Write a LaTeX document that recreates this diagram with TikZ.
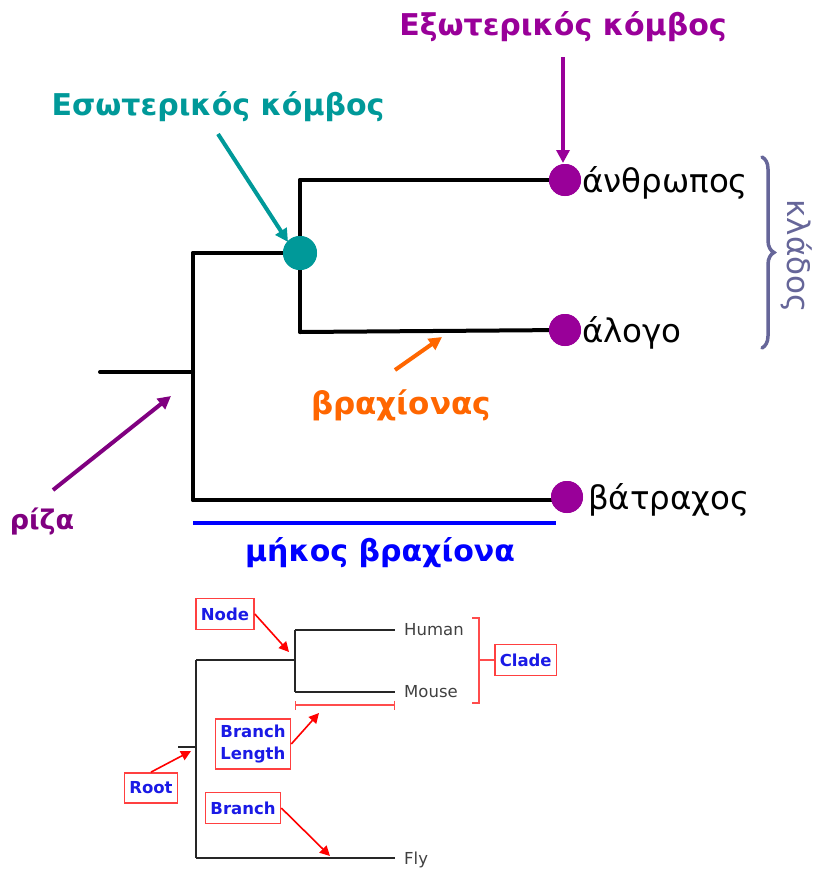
\documentclass[tikz,border=0pt]{standalone}
\usepackage{fontspec}
\setmainfont{DejaVu Sans}
\usetikzlibrary{arrows.meta,decorations.pathreplacing}
\definecolor{extpurple}{HTML}{990099}
\definecolor{rootpurple}{HTML}{800080}
\definecolor{intteal}{HTML}{009999}
\definecolor{armorange}{HTML}{FF6600}
\definecolor{cladegray}{HTML}{666699}
\definecolor{labelblue}{HTML}{1A1AE6}
\tikzset{
  x=1pt, y=-1pt,
  treeline/.style={line width=4pt, line cap=round, line join=round},
  smalltree/.style={line width=2.4pt, black!85},
  callout/.style={line width=4pt, -{Triangle[length=13pt,width=13pt]}},
  redcallout/.style={line width=1.6pt, red, -{Triangle[length=10pt,width=10pt]}},
  leafdot/.style={circle, fill=extpurple, inner sep=0pt, minimum size=32pt},
  innerdot/.style={circle, fill=intteal, inner sep=0pt, minimum size=34pt},
  bigtitle/.style={font=\fontsize{30}{34}\selectfont\bfseries},
  species/.style={font=\fontsize{32.5}{36}\selectfont, anchor=west, inner sep=0pt},
  tag/.style={draw=red!75, line width=1.5pt, fill=white, text=labelblue,
    font=\fontsize{16.5}{22}\selectfont\bfseries, inner xsep=5pt, inner ysep=9pt, align=left},
  smalllabel/.style={font=\fontsize{16.5}{20}\selectfont, text=black!75, anchor=west, inner sep=0pt}
}
\begin{document}
\begin{tikzpicture}
\clip (0,0) rectangle (813,870);
\useasboundingbox (0,0) rectangle (813,870);

% ---- main tree ----
\coordinate (rootstart) at (100,372);
\coordinate (rootjoin) at (193,372);
\coordinate (upperjoin) at (193,253);
\coordinate (lowerjoin) at (193,500);
\node[innerdot] (inner) at (300,253) {};
\coordinate (humanjoin) at (300,180);
\coordinate (horsejoin) at (300,332);
\node[leafdot] (human) at (565,180) {};
\node[leafdot] (horse) at (565,330) {};
\node[leafdot] (frog) at (567,497) {};

\draw[treeline] (rootstart) -- (rootjoin);
\draw[treeline] (upperjoin) -- (lowerjoin);
\draw[treeline] (upperjoin) -- (inner.center);
\draw[treeline] (humanjoin) -- (horsejoin);
\draw[treeline] (humanjoin) -- (human.center);
\draw[treeline] (horsejoin) -- (horse.center);
\draw[treeline] (lowerjoin) -- (frog.center |- lowerjoin);
\node[innerdot] at (inner) {};
\node[leafdot] at (human) {};
\node[leafdot] at (horse) {};
\node[leafdot] at (frog) {};

\node[species] (humanlbl) at (582,183) {άνθρωπος};
\node[species] (horselbl) at (582,333) {άλογο};
\node[species] (froglbl) at (588,500) {βάτραχος};

% branch length bar
\coordinate (barL) at (193,523);
\coordinate (barR) at (556,523);
\draw[line width=4pt, blue] (barL) -- (barR);
\node[bigtitle, text=blue] (lenlbl) at (380,553) {μήκος βραχίονα};

% callouts
\node[bigtitle, text=extpurple] (extlbl) at (563,27) {Εξωτερικός κόμβος};
\coordinate (extfrom) at (563,57);
\coordinate (extto) at (563,163);
\draw[callout, extpurple] (extfrom) -- (extto);

\node[bigtitle, text=intteal] (intlbl) at (218,107) {Εσωτερικός κόμβος};
\coordinate (intfrom) at (218,134);
\coordinate (intto) at (288,242);
\draw[callout, intteal] (intfrom) -- (intto);

\node[bigtitle, font=\fontsize{27}{30}\selectfont\bfseries, text=rootpurple] (rootlbl) at (42,522) {ρίζα};
\coordinate (rootfrom) at (53,490);
\coordinate (rootto) at (171,396);
\draw[callout, rootpurple] (rootfrom) -- (rootto);

\node[bigtitle, font=\fontsize{31}{34}\selectfont\bfseries, text=armorange] (armlbl) at (401,405) {βραχίονας};
\coordinate (armfrom) at (395,370);
\coordinate (armto) at (442,337);
\draw[callout, armorange] (armfrom) -- (armto);

% clade brace and its rotated label
\coordinate (braceTop) at (762,157);
\coordinate (braceBot) at (762,348);
\draw[line width=3.5pt, cladegray, line cap=round,
  decoration={brace, amplitude=12pt}, decorate] (braceTop) -- (braceBot);
\node[font=\fontsize{31}{34}\selectfont, text=cladegray, rotate=-90, inner sep=0pt] (cladelbl) at (797,256) {κλάδος};

% ---- small labelled tree ----
\coordinate (sRootA) at (178,747);
\coordinate (sRootB) at (196,747);
\coordinate (sTop) at (196,660);
\coordinate (sBot) at (196,858);
\coordinate (sNode) at (295,660);
\coordinate (sHumanJ) at (295,630);
\coordinate (sMouseJ) at (295,692);
\coordinate (sHumanE) at (395,630);
\coordinate (sMouseE) at (395,692);
\coordinate (sFlyE) at (395,858);
\draw[smalltree] (sRootA) -- (sRootB);
\draw[smalltree] (sTop) -- (sBot);
\draw[smalltree] (sTop) -- (sNode);
\draw[smalltree] (sHumanJ) -- (sMouseJ);
\draw[smalltree] (sHumanJ) -- (sHumanE);
\draw[smalltree] (sMouseJ) -- (sMouseE);
\draw[smalltree] (sBot) -- (sFlyE);
\node[smalllabel] (hlbl) at (404,630) {Human};
\node[smalllabel] (mlbl) at (404,692) {Mouse};
\node[smalllabel] (flbl) at (404,860) {Fly};

% scale bar
\coordinate (sbL) at (295,705);
\coordinate (sbR) at (395,705);
\draw[red!70, line width=1.4pt, {Bar[width=9pt]}-{Bar[width=9pt]}] (sbL) -- (sbR);

% clade bracket
\coordinate (cbT) at (472,618);
\coordinate (cbB) at (472,703);
\draw[red!70, line width=1.5pt] (cbT) -- ++(7,0) |- (cbB);
\node[tag, anchor=west] (cladetag) at (494,660) {Clade};
\draw[red!70, line width=1.5pt] (479,660) -- (cladetag.west);

% boxed tags and their pointers
\node[tag] (nodetag) at (225,614) {Node};
\coordinate (nodeto) at (289,652);
\draw[redcallout] (nodetag.east) -- (nodeto);

\node[tag, inner ysep=6pt] (bltag) at (253,744) {Branch\\Length};
\coordinate (blto) at (319,713);
\draw[redcallout] (bltag.east) -- (blto);

\node[tag] (roottag) at (151,788) {Root};
\coordinate (rootto2) at (191,751);
\draw[redcallout] (roottag.north) -- (rootto2);

\node[tag] (brtag) at (243,808) {Branch};
\coordinate (brto) at (330,856);
\draw[redcallout] (brtag.east) -- (brto);
\end{tikzpicture}
\end{document}
